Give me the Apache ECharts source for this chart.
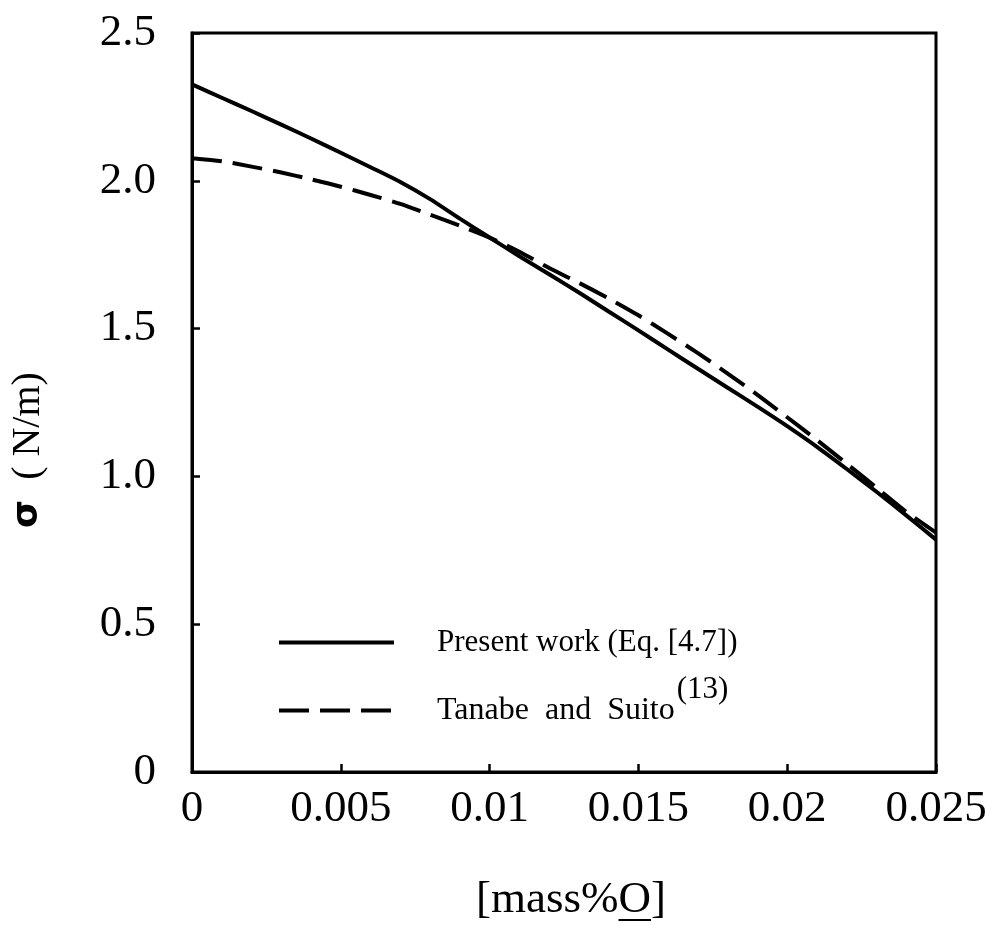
<!DOCTYPE html>
<html>
<head>
<meta charset="utf-8">
<script src="https://cdn.jsdelivr.net/npm/echarts@6/dist/echarts.min.js"></script>
<style>
  html, body { margin: 0; padding: 0; background: #fff; }
  #chart { width: 994px; height: 925px; }
</style>
</head>
<body>
<div id="chart"></div>
<script>
// Oxygen content in mass% (x) and surface tension sigma in N/m (y)
const massO = [0, 0.001, 0.002, 0.003, 0.004, 0.005, 0.006, 0.007, 0.008, 0.009,
               0.010, 0.011, 0.012, 0.013, 0.014, 0.015, 0.016, 0.017, 0.018, 0.019,
               0.020, 0.021, 0.022, 0.023, 0.024, 0.025];
const presentWork = [2.326, 2.281, 2.236, 2.190, 2.143, 2.095, 2.046, 1.996, 1.938, 1.872,
                     1.808, 1.745, 1.684, 1.622, 1.558, 1.494, 1.429, 1.364, 1.300, 1.236,
                     1.170, 1.100, 1.025, 0.948, 0.868, 0.786];
const tanabeSuito = [2.076, 2.066, 2.048, 2.028, 2.005, 1.980, 1.952, 1.922, 1.885, 1.848,
                     1.808, 1.760, 1.705, 1.655, 1.602, 1.545, 1.482, 1.417, 1.348, 1.276,
                     1.200, 1.123, 1.043, 0.962, 0.880, 0.810];
const xTickLabels = ['0', '0.005', '0.01', '0.015', '0.02', '0.025'];
const yTickLabels = ['0', '0.5', '1.0', '1.5', '2.0', '2.5'];

const seriesNames = ['Present work (Eq. [4.7])', 'Tanabe  and  Suito'];
const refMark = '(13)';

const SERIF = '"Liberation Serif", "Times New Roman", serif';
const GRID = { left: 192, right: 58, top: 33, bottom: 153 };

const chart = echarts.init(document.getElementById('chart'), null, { renderer: 'canvas' });

// x-axis title with the underlined O, measured from the actual font
const xTitle = { pre: '[mass%', under: 'O', post: ']', size: 45, cx: 571, cy: 900 };
const ctx = document.createElement('canvas').getContext('2d');
ctx.font = xTitle.size + 'px ' + SERIF;
const preW = ctx.measureText(xTitle.pre).width;
const underW = ctx.measureText(xTitle.under).width;
const fullW = ctx.measureText(xTitle.pre + xTitle.under + xTitle.post).width;
const xTitleLeft = xTitle.cx - fullW / 2;

const pair = (xs, ys) => xs.map((x, i) => [x, ys[i]]);

const axisCommon = {
  type: 'value',
  axisLine: { show: true, onZero: false, lineStyle: { color: '#000', width: 3 } },
  axisTick: { show: true, inside: true, length: 8, lineStyle: { color: '#000', width: 2.5 } },
  splitLine: { show: false },
  axisLabel: { color: '#000', fontFamily: SERIF, fontSize: 45 }
};

chart.setOption({
  backgroundColor: '#fff',
  animation: false,
  grid: Object.assign({ show: true, borderColor: '#000', borderWidth: 3, containLabel: false }, GRID),
  xAxis: Object.assign({}, axisCommon, {
    min: 0, max: 0.025, interval: 0.005,
    axisLabel: Object.assign({}, axisCommon.axisLabel, {
      margin: 15,
      formatter: (v, i) => xTickLabels[i]
    })
  }),
  yAxis: Object.assign({}, axisCommon, {
    min: 0, max: 2.5, interval: 0.5,
    axisLabel: Object.assign({}, axisCommon.axisLabel, {
      margin: 36,
      formatter: (v, i) => yTickLabels[i]
    })
  }),
  legend: {
    orient: 'vertical',
    left: 277,
    top: 627,
    padding: 0,
    itemWidth: 115,
    itemHeight: 14,
    itemGap: 16,
    data: seriesNames,
    lineStyle: { width: 4 },
    itemStyle: { opacity: 0, borderWidth: 0, color: 'rgba(0,0,0,0)' },
    formatter: name => name === seriesNames[1]
      ? '{t2|' + name + '}{sup|' + refMark + '}'
      : '{t|' + name + '}',
    textStyle: {
      color: '#000',
      fontFamily: SERIF,
      fontSize: 31,
      rich: {
        t: { color: '#000', fontFamily: SERIF, fontSize: 31, lineHeight: 36, padding: [0, 0, 0, 38] },
        t2: { color: '#000', fontFamily: SERIF, fontSize: 32, lineHeight: 36, padding: [0, 0, 0, 38] },
        sup: { color: '#000', fontFamily: SERIF, fontSize: 31, lineHeight: 32, padding: [0, 0, 42, 2] }
      }
    }
  },
  series: [
    {
      name: seriesNames[0],
      type: 'line',
      data: pair(massO, presentWork),
      symbol: 'none',
      smooth: 0.25,
      lineStyle: { color: '#000', width: 4, type: 'solid' },
      itemStyle: { color: '#000' },
      z: 3
    },
    {
      name: seriesNames[1],
      type: 'line',
      data: pair(massO, tanabeSuito),
      symbol: 'none',
      smooth: 0.25,
      lineStyle: { color: '#000', width: 4, type: [30, 11], cap: 'butt' },
      itemStyle: { color: '#000' },
      z: 3
    }
  ],
  graphic: [
    {
      type: 'text',
      x: 28,
      y: 450,
      rotation: Math.PI / 2,
      style: {
        text: '{s|σ}{u|  ( N/m)}',
        align: 'center',
        verticalAlign: 'middle',
        rich: {
          s: { fontFamily: '"DejaVu Sans", sans-serif', fontSize: 36, fontWeight: 'bold', fill: '#000' },
          u: { fontFamily: SERIF, fontSize: 40, fill: '#000' }
        }
      }
    },
    {
      type: 'text',
      x: xTitle.cx,
      y: xTitle.cy,
      style: {
        text: xTitle.pre + xTitle.under + xTitle.post,
        font: xTitle.size + 'px ' + SERIF,
        fill: '#000',
        align: 'center',
        verticalAlign: 'middle'
      }
    },
    {
      type: 'rect',
      shape: { x: xTitleLeft + preW, y: 919, width: underW, height: 2 },
      style: { fill: '#000' }
    }
  ]
});
</script>
</body>
</html>
